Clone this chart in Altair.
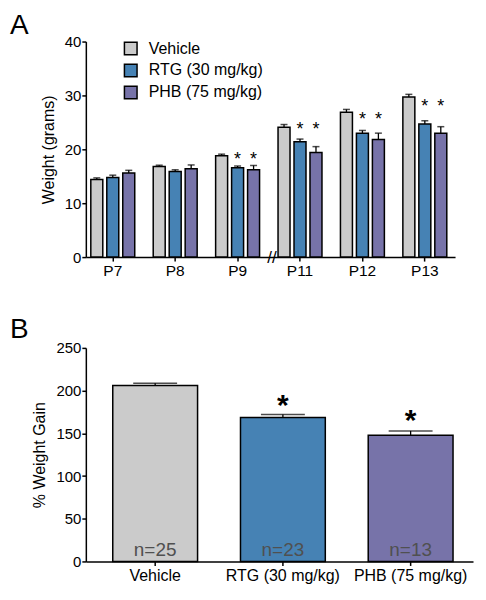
import altair as alt
import pandas as pd

# ---------------- data ----------------
days = ["P7", "P8", "P9", "P11", "P12", "P13"]
groups = ["Vehicle", "RTG (30 mg/kg)", "PHB (75 mg/kg)"]
colors = ["#cbcbcb", "#4682b4", "#7773a9"]

vehicle_w = [14.4, 16.8, 18.8, 24.1, 26.9, 29.7]
vehicle_err = [0.3, 0.25, 0.3, 0.5, 0.5, 0.5]
rtg_w = [14.75, 15.9, 16.6, 21.4, 23.0, 24.7]
rtg_err = [0.45, 0.3, 0.3, 0.5, 0.5, 0.6]
phb_w = [15.6, 16.4, 16.2, 19.4, 21.8, 23.0]
phb_err = [0.5, 0.7, 0.8, 1.1, 1.2, 1.2]

star_days = ["P9", "P9", "P11", "P11", "P12", "P12", "P13", "P13"]
star_groups = ["RTG (30 mg/kg)", "PHB (75 mg/kg)"] * 4
star_y = [18.7, 18.7, 24.4, 24.4, 26.2, 26.2, 28.5, 28.5]

break_day = ["P11"]
break_y = [0]

gain = [206, 168.5, 147.8]
gain_err = [2.7, 3.5, 5.0]
n_labels = ["n=25", "n=23", "n=13"]
gain_star_groups = ["RTG (30 mg/kg)", "PHB (75 mg/kg)"]
gain_star_y = [190, 172]

FONT = "Liberation Sans"

# ---------------- panel A ----------------
rows = []
for g, ws, es in zip(groups, [vehicle_w, rtg_w, phb_w], [vehicle_err, rtg_err, phb_err]):
    for d, w, e in zip(days, ws, es):
        rows.append({"day": d, "group": g, "w": w, "err": e})
dfA = pd.DataFrame(rows)
dfStars = pd.DataFrame({"day": star_days, "group": star_groups, "y": star_y})
dfBreak = pd.DataFrame({"day": break_day, "y": break_y})

xA = alt.X("day:N", sort=days,
           scale=alt.Scale(paddingInner=0.296, paddingOuter=0.106, align=0.376),
           axis=alt.Axis(title=None, labelAngle=0, labelFontSize=15.5, labelColor="black",
                         tickSize=4, tickColor="black", tickWidth=1.5,
                         domainColor="black", domainWidth=1.5, labelPadding=2))
xoA = alt.XOffset("group:N", sort=groups, scale=alt.Scale(paddingInner=0.25))
yA = alt.Y("w:Q", scale=alt.Scale(domain=[0, 40], nice=False),
           axis=alt.Axis(title="Weight (grams)", values=[0, 10, 20, 30, 40], grid=False,
                         labelFontSize=15, labelColor="black", titleFontSize=16,
                         titleFontWeight="normal", titleColor="black", titlePadding=8,
                         tickSize=4, tickColor="black", tickWidth=1.5,
                         domainColor="black", domainWidth=1.5, labelPadding=1))

baseA = alt.Chart(dfA).transform_calculate(hi="datum.w + datum.err")

errA = baseA.mark_rule(color="black", strokeWidth=1.3).encode(
    x=xA, xOffset=xoA, y=yA, y2="hi:Q")
capA = baseA.mark_tick(color="black", thickness=1.5, size=7).encode(
    x=xA, xOffset=xoA, y="hi:Q")
barsA = baseA.mark_bar(stroke="black", strokeWidth=1.5).encode(
    x=xA, xOffset=xoA, y=yA,
    color=alt.Color("group:N", sort=groups,
                    scale=alt.Scale(domain=groups, range=colors),
                    legend=alt.Legend(title=None, orient="none", legendX=37, legendY=-1,
                                      labelFontSize=16, labelColor="black",
                                      symbolType="square", symbolSize=160,
                                      symbolStrokeColor="black", symbolStrokeWidth=1.5,
                                      rowPadding=2, labelOffset=10)))
starsA = alt.Chart(dfStars).mark_text(text="*", fontSize=18, baseline="middle", dy=4,
                                      color="black", font=FONT).encode(
    x=alt.X("day:N", sort=days), xOffset=alt.XOffset("group:N", sort=groups), y="y:Q")
breakA = alt.Chart(dfBreak).mark_text(text="//", fontSize=17, baseline="middle", dx=-28,
                                      dy=1, color="black", font=FONT).encode(
    x=alt.X("day:N", sort=days), y="y:Q")

panelA = alt.layer(errA, capA, barsA, starsA, breakA).properties(
    width=370, height=216,
    title=alt.TitleParams("A", anchor="start", frame="group", fontSize=28,
                          fontWeight="normal", font=FONT, color="black", dx=-76, offset=-5))

# ---------------- panel B ----------------
dfB = pd.DataFrame({"group": groups, "gain": gain, "err": gain_err, "n": n_labels})
dfBS = pd.DataFrame({"group": gain_star_groups, "y": gain_star_y})

xB = alt.X("group:N", sort=groups,
           scale=alt.Scale(paddingInner=0.336, paddingOuter=0.1836, align=0.574),
           axis=alt.Axis(title=None, labelAngle=0, labelFontSize=16, labelColor="black",
                         tickSize=4, tickColor="black", tickWidth=1.5,
                         domainColor="black", domainWidth=1.5, labelPadding=2))
yB = alt.Y("gain:Q", scale=alt.Scale(domain=[0, 250], nice=False),
           axis=alt.Axis(title="% Weight Gain", values=[0, 50, 100, 150, 200, 250], grid=False,
                         labelFontSize=15, labelColor="black", titleFontSize=16,
                         titleFontWeight="normal", titleColor="black", titlePadding=8,
                         tickSize=4, tickColor="black", tickWidth=1.5,
                         domainColor="black", domainWidth=1.5, labelPadding=1))

baseB = alt.Chart(dfB).transform_calculate(hi="datum.gain + datum.err")
errB = baseB.mark_rule(color="black", strokeWidth=1.3).encode(x=xB, y=yB, y2="hi:Q")
capB = baseB.mark_tick(color="black", thickness=1.5, size=44).encode(x=xB, y="hi:Q")
barsB = baseB.mark_bar(stroke="black", strokeWidth=1.5).encode(
    x=xB, y=yB,
    color=alt.Color("group:N", scale=alt.Scale(domain=groups, range=colors), legend=None))
nB = baseB.mark_text(baseline="alphabetic", dy=-5, fontSize=19, color="#505050",
                     font=FONT).encode(x=xB, y=alt.datum(0), text="n:N")
starsB = alt.Chart(dfBS).mark_text(text="*", fontSize=30, fontWeight="bold",
                                   baseline="middle", dy=7, color="black", font=FONT).encode(
    x=alt.X("group:N", sort=groups), y="y:Q")

panelB = alt.layer(errB, capB, barsB, nB, starsB).properties(
    width=388, height=214,
    title=alt.TitleParams("B", anchor="start", frame="group", fontSize=28,
                          fontWeight="normal", font=FONT, color="black", dx=-76, offset=-3))

chart = alt.vconcat(panelA, panelB, spacing=37).properties(
    padding={"left": 2, "top": 3, "right": 5, "bottom": 5},
).configure(font=FONT).configure_view(stroke=None).resolve_scale(color="independent")

chart.save("out.html", embed_options={"renderer": "svg", "actions": False})
